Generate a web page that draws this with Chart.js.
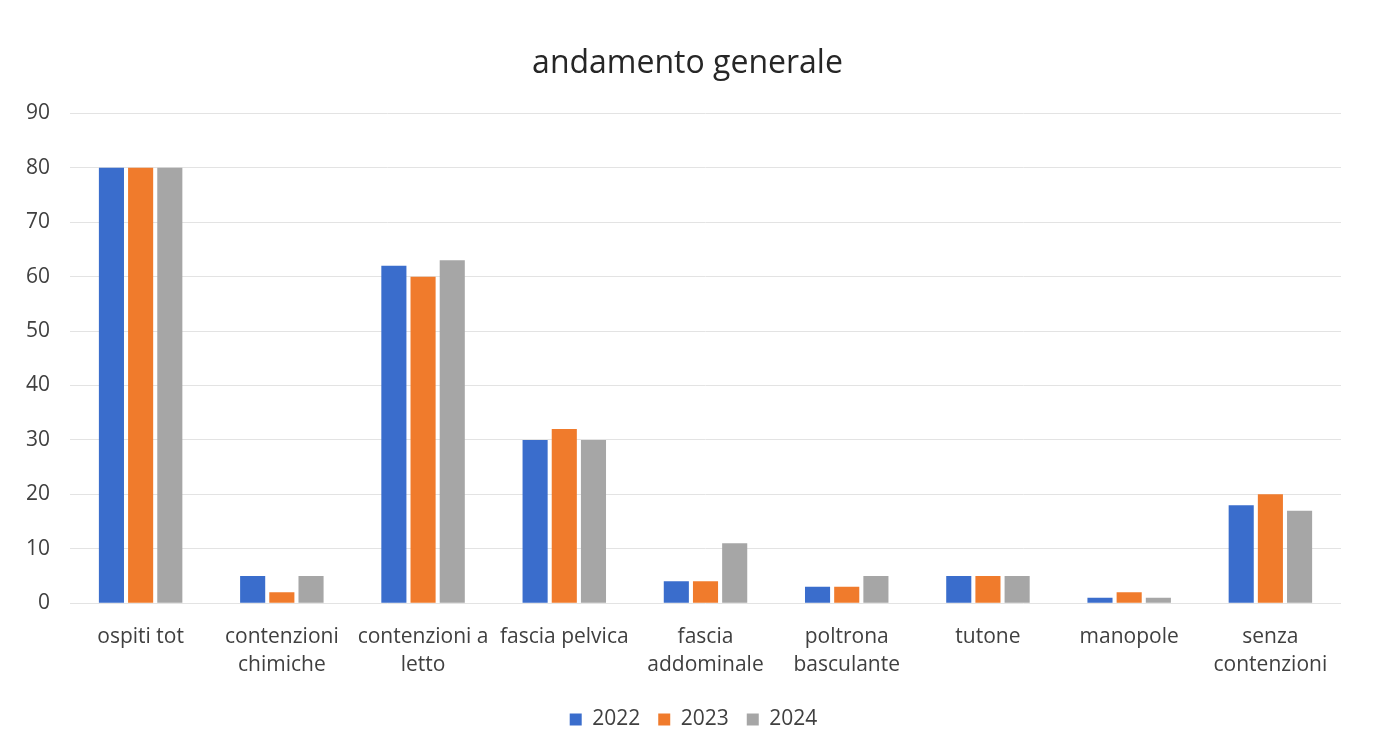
<!DOCTYPE html>
<html>
<head>
<meta charset="utf-8">
<script src="https://cdn.jsdelivr.net/npm/chart.js@4"></script>
<style>
  html, body { margin: 0; padding: 0; background: #fff; }
  #wrap { width: 1373px; height: 750px; }
</style>
</head>
<body>
<div id="wrap"><canvas id="barChart"></canvas></div>
<script>
var categories = ["ospiti tot", ["contenzioni", "chimiche"], ["contenzioni a", "letto"], "fascia pelvica",
    ["fascia", "addominale"], ["poltrona", "basculante"], "tutone", "manopole", ["senza", "contenzioni"]];
var years = ["2022", "2023", "2024"];
var values2022 = [80, 5, 62, 30, 4, 3, 5, 1, 18];
var values2023 = [80, 2, 60, 32, 4, 3, 5, 2, 20];
var values2024 = [80, 5, 63, 30, 11, 5, 5, 1, 17];
var yTicks = [0, 10, 20, 30, 40, 50, 60, 70, 80, 90];

var fontFamily = "'Open Sans', 'Noto Sans', sans-serif";
var textColor = '#404040';

var barData = {
    labels: categories,
    datasets: [
        { label: years[0], backgroundColor: '#3a6dcc', data: values2022 },
        { label: years[1], backgroundColor: '#f07b2c', data: values2023 },
        { label: years[2], backgroundColor: '#a6a6a6', data: values2024 }
    ]
};

// title and legend sit a little right of the canvas centre in the original
var shiftBoxes = {
    id: 'shiftBoxes',
    afterLayout: function (chart) {
        if (chart.titleBlock) {
            chart.titleBlock.left += 14;
            chart.titleBlock.right += 14;
        }
        if (chart.legend) {
            chart.legend.left += 20;
            chart.legend.right += 20;
        }
    }
};

var barOptions = {
    responsive: true,
    maintainAspectRatio: false,
    animation: false,
    layout: { padding: { left: 6, right: 32, top: 45, bottom: 10 } },
    datasets: { bar: { categoryPercentage: 0.62, barPercentage: 0.86 } },
    plugins: {
        title: {
            display: true,
            text: 'andamento generale',
            color: '#262626',
            font: { family: fontFamily, size: 32, weight: 'normal' },
            padding: { top: 0, bottom: 30 }
        },
        legend: {
            position: 'bottom',
            labels: {
                color: textColor,
                boxWidth: 12, boxHeight: 12,
                padding: 18,
                font: { family: fontFamily, size: 21 }
            }
        },
        tooltip: { enabled: false }
    },
    scales: {
        x: {
            grid: { display: false },
            border: { display: false },
            ticks: {
                color: textColor, autoSkip: false, maxRotation: 0, padding: 12,
                font: { family: fontFamily, size: 21, lineHeight: 1.33 }
            }
        },
        y: {
            min: 0, max: 90,
            afterBuildTicks: function (axis) { axis.ticks = yTicks.map(function (v) { return { value: v }; }); },
            grid: { color: '#e3e3e3', lineWidth: 1, drawTicks: false },
            border: { display: false },
            ticks: {
                color: textColor, padding: 20,
                font: { family: fontFamily, size: 21 }
            }
        }
    }
};

var ctx2 = document.getElementById("barChart").getContext("2d");
new Chart(ctx2, { type: 'bar', data: barData, options: barOptions, plugins: [shiftBoxes] });
</script>
</body>
</html>
